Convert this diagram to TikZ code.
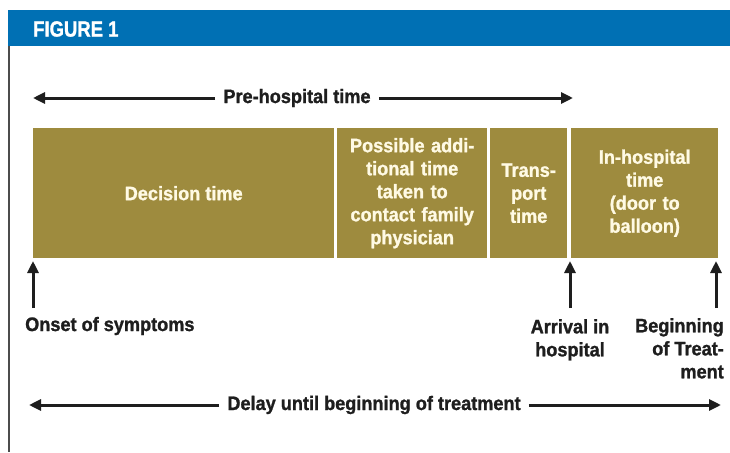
\documentclass[tikz,border=0pt]{standalone}
\usepackage{fontspec}
\setmainfont{Liberation Sans}
\newfontfamily\bodyfont{Liberation Sans}[FakeStretch=0.93,FakeBold=1.2]
\newfontfamily\headfont{Liberation Sans}[FakeStretch=0.84,FakeBold=1.2]
\usetikzlibrary{arrows.meta}
\definecolor{headblue}{RGB}{0,112,180}
\definecolor{bargold}{RGB}{158,139,62}
\definecolor{bartext}{RGB}{255,250,228}
\definecolor{ink}{RGB}{30,30,30}
\begin{document}
\begin{tikzpicture}[x=1pt,y=-1pt,
  segment/.style={draw=none,fill=bargold,anchor=north west,inner sep=0pt,
    minimum height=130pt,align=center,text=bartext,
    font=\bodyfont\bfseries\fontsize{19.5}{23}\selectfont},
  label/.style={inner sep=0pt,text=ink,
    font=\bodyfont\bfseries\fontsize{19.5}{23}\selectfont},
  span/.style={line width=3pt,draw=ink,-{Triangle[length=12pt,width=11pt]}},
  marker/.style={line width=3pt,draw=ink,-{Triangle[length=12pt,width=11pt]}}]
\useasboundingbox (0,0) rectangle (730,452);
\fill[white] (0,0) rectangle (730,452);

% header band
\fill[headblue] (8,10) rectangle (730,46);
\node[anchor=west,inner sep=0pt,text=white,
  font=\headfont\bfseries\fontsize{22}{22}\selectfont] (fig) at (33,29) {FIGURE 1};
\draw[line width=2pt,gray!60!black] (9,46) -- (9,452);

% timeline bar
\node[segment,minimum width=301pt] (dec) at (33,128) {Decision time};
\node[segment,minimum width=150pt,text width=148pt] (poss) at (337,128)
  {Possible addi-\\tional time\\taken to\\contact family\\physician};
\node[segment,minimum width=77pt,text width=75pt] (trans) at (490,128)
  {Trans-\\port\\time};
\node[segment,minimum width=147pt,text width=145pt] (inh) at (571,128)
  {In-hospital\\time\\(door to\\balloon)};

% pre-hospital span
\node[label] (pre) at (297,98) {Pre-hospital time};
\coordinate (preL) at (33,98);
\coordinate (preR) at (573,98);
\draw[span] (pre.west) ++(-8,0) -- (preL);
\draw[span] (pre.east) ++(8,0) -- (preR);

% event markers
\node[label,anchor=west] (onset) at (25,326) {Onset of symptoms};
\node[label,align=center,anchor=north] (arr) at (570,319) {Arrival in\\hospital};
\node[label,align=right,anchor=north east] (beg) at (724,318) {Beginning\\of Treat-\\ment};
\coordinate (onsetB) at (33,308);
\coordinate (onsetT) at (33,261);
\coordinate (arrB) at (570,308);
\coordinate (arrT) at (570,261);
\coordinate (begB) at (716,308);
\coordinate (begT) at (716,261);
\draw[marker] (onsetB) -- (onsetT);
\draw[marker] (arrB) -- (arrT);
\draw[marker] (begB) -- (begT);

% total delay span
\node[label] (delay) at (374,405) {Delay until beginning of treatment};
\coordinate (delL) at (29,405);
\coordinate (delR) at (721,405);
\draw[span] (delay.west) ++(-8,0) -- (delL);
\draw[span] (delay.east) ++(8,0) -- (delR);
\end{tikzpicture}
\end{document}
